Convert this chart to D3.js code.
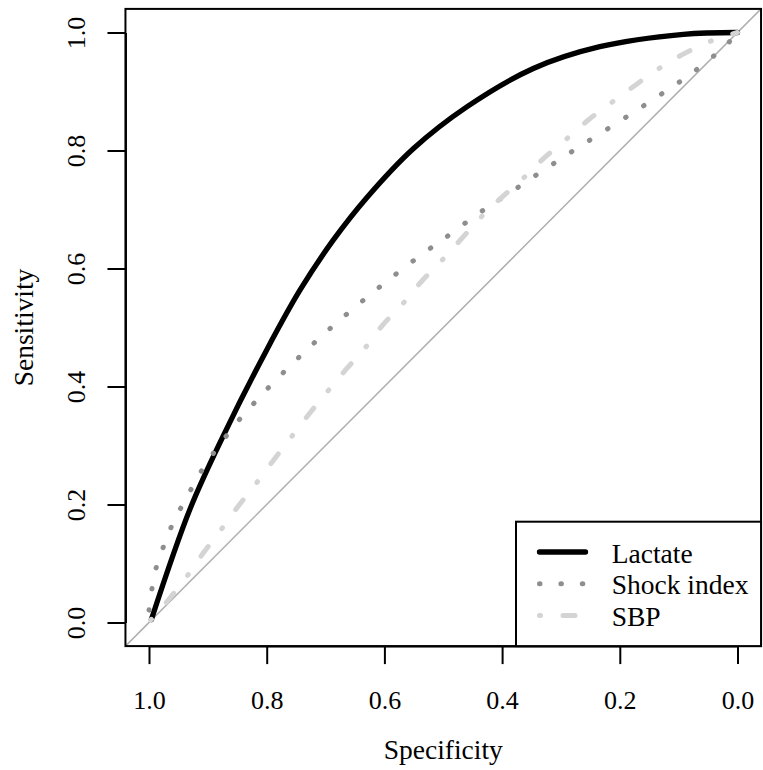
<!DOCTYPE html>
<html lang="en">
<head>
<meta charset="UTF-8">
<title>ROC curves</title>
<script src="https://cdn.jsdelivr.net/npm/d3@7"></script>
<style>
  body { margin: 0; background: #fff; }
  svg text { font-family: "Liberation Serif", "Times New Roman", serif; fill: #000; }
</style>
</head>
<body>
<div id="chart"></div>
<script>
// values (specificity, sensitivity)
const lactateSpec = [0.996, 0.93, 0.873, 0.80, 0.743, 0.687, 0.63, 0.551, 0.46, 0.347, 0.234, 0.092, 0.0];
const lactateSens = [0.005, 0.193, 0.318, 0.462, 0.564, 0.648, 0.72, 0.803, 0.874, 0.939, 0.976, 0.997, 1.0];

const shockSpec = [1.0, 0.995, 0.988, 0.976, 0.963, 0.947, 0.93, 0.912, 0.892, 0.871, 0.848, 0.824, 0.8, 0.749, 0.696, 0.641, 0.585, 0.528, 0.498, 0.439, 0.38, 0.32, 0.26, 0.198, 0.138, 0.079, 0.02, 0.0];
const shockSens = [0.021, 0.057, 0.092, 0.127, 0.16, 0.192, 0.223, 0.255, 0.285, 0.313, 0.342, 0.369, 0.395, 0.446, 0.495, 0.542, 0.587, 0.63, 0.651, 0.694, 0.733, 0.773, 0.812, 0.851, 0.89, 0.93, 0.978, 1.0];

const sbpSpec = [0.997, 0.969, 0.935, 0.909, 0.88, 0.85, 0.82, 0.79, 0.76, 0.729, 0.698, 0.666, 0.633, 0.603, 0.569, 0.537, 0.503, 0.427, 0.4, 0.363, 0.328, 0.29, 0.252, 0.213, 0.172, 0.132, 0.089, 0.044, 0.0];
const sbpSens = [0.004, 0.036, 0.079, 0.116, 0.154, 0.195, 0.233, 0.273, 0.312, 0.352, 0.39, 0.428, 0.465, 0.504, 0.54, 0.578, 0.613, 0.696, 0.721, 0.754, 0.788, 0.82, 0.853, 0.882, 0.912, 0.94, 0.965, 0.986, 1.0];

const ticks = [1.0, 0.8, 0.6, 0.4, 0.2, 0.0];
const legendNames = ["Lactate", "Shock index", "SBP"];

const width = 763, height = 770;
const svg = d3.select("#chart").append("svg")
  .attr("width", width)
  .attr("height", height);

// scales (specificity axis reversed, R-style 4% padding)
const x = d3.scaleLinear().domain([1, 0]).range([149, 737.5]);
const y = d3.scaleLinear().domain([0, 1]).range([622.5, 32.5]);
const pad = 0.04;

const series = [
  { spec: lactateSpec, sens: lactateSens, color: "#000", w: 5.3, dash: null },
  { spec: shockSpec, sens: shockSens, color: "#8e8e8e", w: 5, dash: "0.5 20.9" },
  { spec: sbpSpec, sens: sbpSens, color: "#d4d4d4", w: 5, dash: "1 22.5 12 22.5" }
];

// diagonal reference line
svg.append("line")
  .attr("x1", x(1 + pad)).attr("y1", y(-pad))
  .attr("x2", x(-pad)).attr("y2", y(1 + pad))
  .attr("stroke", "#b0b0b0")
  .attr("stroke-width", 1.5);

const line = d3.line()
  .x(d => x(d[0]))
  .y(d => y(d[1]))
  .curve(d3.curveCatmullRom.alpha(0.5));

series.forEach(s => {
  const pts = s.spec.map((v, i) => [v, s.sens[i]]);
  svg.append("path")
    .datum(pts)
    .attr("d", line)
    .attr("fill", "none")
    .attr("stroke", s.color)
    .attr("stroke-width", s.w)
    .attr("stroke-linecap", "round")
    .attr("stroke-linejoin", "round")
    .attr("stroke-dasharray", s.dash);
});

// plot box
svg.append("rect")
  .attr("x", x(1 + pad)).attr("y", y(1 + pad))
  .attr("width", x(-pad) - x(1 + pad))
  .attr("height", y(-pad) - y(1 + pad))
  .attr("fill", "none")
  .attr("stroke", "#000")
  .attr("stroke-width", 2);

// x axis
const xAxis = svg.append("g")
  .attr("transform", `translate(0,${y(-pad)})`)
  .call(d3.axisBottom(x).tickValues(ticks).tickSize(18).tickSizeOuter(0).tickFormat(d3.format(".1f")));
xAxis.select(".domain").attr("stroke-width", 2);
xAxis.selectAll(".tick line").attr("stroke-width", 2);
xAxis.selectAll(".tick text")
  .attr("y", 709 - y(-pad)).attr("dy", null)
  .style("font-size", "26px").style("font-family", "Liberation Serif, serif");

// y axis
const yAxis = svg.append("g")
  .attr("transform", `translate(${x(1 + pad)},0)`)
  .call(d3.axisLeft(y).tickValues(ticks).tickSize(18).tickSizeOuter(0).tickFormat(d3.format(".1f")));
yAxis.select(".domain").attr("stroke-width", 2);
yAxis.selectAll(".tick line").attr("stroke-width", 2);
yAxis.selectAll(".tick text")
  .attr("x", null).attr("dy", null)
  .attr("text-anchor", "middle")
  .attr("transform", `translate(${85 - x(1 + pad)},0) rotate(-90)`)
  .style("font-size", "26px").style("font-family", "Liberation Serif, serif");

// axis titles
svg.append("text")
  .attr("x", (x(1 + pad) + x(-pad)) / 2)
  .attr("y", 759)
  .attr("text-anchor", "middle")
  .style("font-size", "27.5px")
  .text("Specificity");

svg.append("text")
  .attr("transform", `translate(33,${(y(-pad) + y(1 + pad)) / 2}) rotate(-90)`)
  .attr("text-anchor", "middle")
  .style("font-size", "27.5px")
  .text("Sensitivity");

// legend
const lg = svg.append("g");
lg.append("rect")
  .attr("x", 516).attr("y", 521.7)
  .attr("width", x(-pad) - 516)
  .attr("height", y(-pad) - 521.7)
  .attr("fill", "#fff")
  .attr("stroke", "#000")
  .attr("stroke-width", 2);

legendNames.forEach((name, i) => {
  const ly = 552 + i * 31.8;
  const s = series[i];
  lg.append("line")
    .attr("x1", 539.5).attr("x2", 585.5)
    .attr("y1", ly).attr("y2", ly)
    .attr("stroke", s.color)
    .attr("stroke-width", s.w)
    .attr("stroke-linecap", "round")
    .attr("stroke-dasharray", s.dash);
  lg.append("text")
    .attr("x", 611.7)
    .attr("y", ly + 10.6)
    .style("font-size", "27.5px")
    .text(name);
});
</script>
</body>
</html>
